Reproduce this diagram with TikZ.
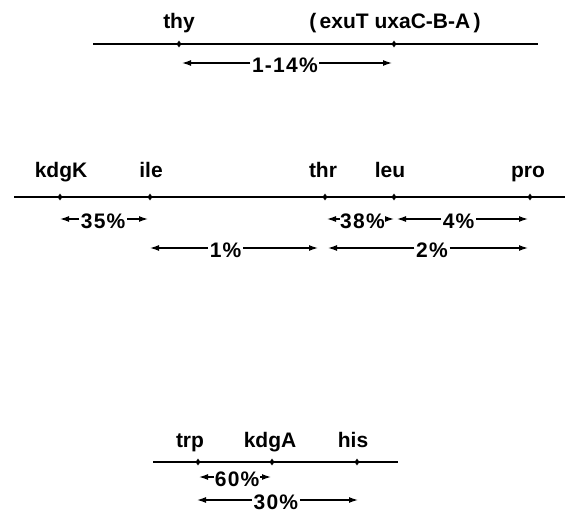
\documentclass[tikz,border=0pt]{standalone}
\usepackage{fontspec}
\setmainfont{Liberation Sans}
\newfontfamily\pctfont{Liberation Sans}[LetterSpace=6]
\usetikzlibrary{arrows.meta,calc,shapes.geometric}
\begin{document}
\begin{tikzpicture}[x=1pt,y=-1pt,
  chrom/.style={line width=1.7pt},
  locus/.style={diamond,fill,inner sep=0pt,minimum width=5pt,minimum height=7pt},
  gene/.style={font=\bfseries\fontsize{21}{21}\selectfont,anchor=base,inner sep=0pt},
  pct/.style={font=\pctfont\bfseries\fontsize{21}{21}\selectfont,inner sep=1.5pt},
  half/.style={line width=1.3pt,-{Latex[length=9pt,width=6pt]}}]
\useasboundingbox (0,0) rectangle (565,514);

% ---- thy region ----
\draw[chrom] (93,44) -- (538,44);
\node[locus] (thy) at (179,44) {};
\node[locus] (exu) at (394,44) {};
\node[gene] (thyL) at (179,28) {thy};
\node[gene] (exuL) at (395,28) {(\,exuT uxaC-B-A\,)};
\coordinate (a1) at (182,63);
\coordinate (b1) at (392,63);
\node[pct] (p1) at ($(a1)!0.49!(b1)+(0,2)$) {1-14\%};
\draw[half] (p1.west|-a1) -- (a1);
\draw[half] (p1.east|-b1) -- (b1);

% ---- kdgK ... pro region ----
\draw[chrom] (14,197) -- (565,197);
\node[locus] (kdgK) at (60,197) {};
\node[locus] (ile) at (150,197) {};
\node[locus] (thr) at (325,197) {};
\node[locus] (leu) at (394,197) {};
\node[locus] (pro) at (530,197) {};
\node[gene] (kdgKL) at (61,177) {kdgK};
\node[gene] (ileL) at (151,177) {ile};
\node[gene] (thrL) at (323,177) {thr};
\node[gene] (leuL) at (390,177) {leu};
\node[gene] (proL) at (528,177) {pro};

\coordinate (a2) at (60,219);
\coordinate (b2) at (148,219);
\node[pct] (p2) at ($(a2)!0.49!(b2)+(0,2)$) {35\%};
\draw[half] (p2.west|-a2) -- (a2);
\draw[half] (p2.east|-b2) -- (b2);

\coordinate (a3) at (327,219);
\coordinate (b3) at (394,219);
\node[pct,inner sep=0.5pt] (p3) at ($(a3)!0.53!(b3)+(0,2)$) {38\%};
\draw[half] (p3.west|-a3) -- (a3);
\draw[half] (p3.east|-b3) -- (b3);

\coordinate (a4) at (397,219);
\coordinate (b4) at (528,219);
\node[pct] (p4) at ($(a4)!0.47!(b4)+(0,2)$) {4\%};
\draw[half] (p4.west|-a4) -- (a4);
\draw[half] (p4.east|-b4) -- (b4);

\coordinate (a5) at (150,248);
\coordinate (b5) at (318,248);
\node[pct] (p5) at ($(a5)!0.45!(b5)+(0,2)$) {1\%};
\draw[half] (p5.west|-a5) -- (a5);
\draw[half] (p5.east|-b5) -- (b5);

\coordinate (a6) at (328,248);
\coordinate (b6) at (528,248);
\node[pct] (p6) at ($(a6)!0.52!(b6)+(0,2)$) {2\%};
\draw[half] (p6.west|-a6) -- (a6);
\draw[half] (p6.east|-b6) -- (b6);

% ---- trp region ----
\draw[chrom] (153,462) -- (398,462);
\node[locus] (trp) at (198,462) {};
\node[locus] (kdgA) at (272,462) {};
\node[locus] (his) at (357,462) {};
\node[gene] (trpL) at (190,447) {trp};
\node[gene] (kdgAL) at (270,447) {kdgA};
\node[gene] (hisL) at (353,447) {his};

\coordinate (a7) at (199,477);
\coordinate (b7) at (271,477);
\node[pct,inner sep=0.5pt] (p7) at ($(a7)!0.53!(b7)+(0,2)$) {60\%};
\draw[half] (p7.west|-a7) -- (a7);
\draw[half] (p7.east|-b7) -- (b7);

\coordinate (a8) at (197,500);
\coordinate (b8) at (358,500);
\node[pct] (p8) at ($(a8)!0.49!(b8)+(0,2)$) {30\%};
\draw[half] (p8.west|-a8) -- (a8);
\draw[half] (p8.east|-b8) -- (b8);
\end{tikzpicture}
\end{document}
